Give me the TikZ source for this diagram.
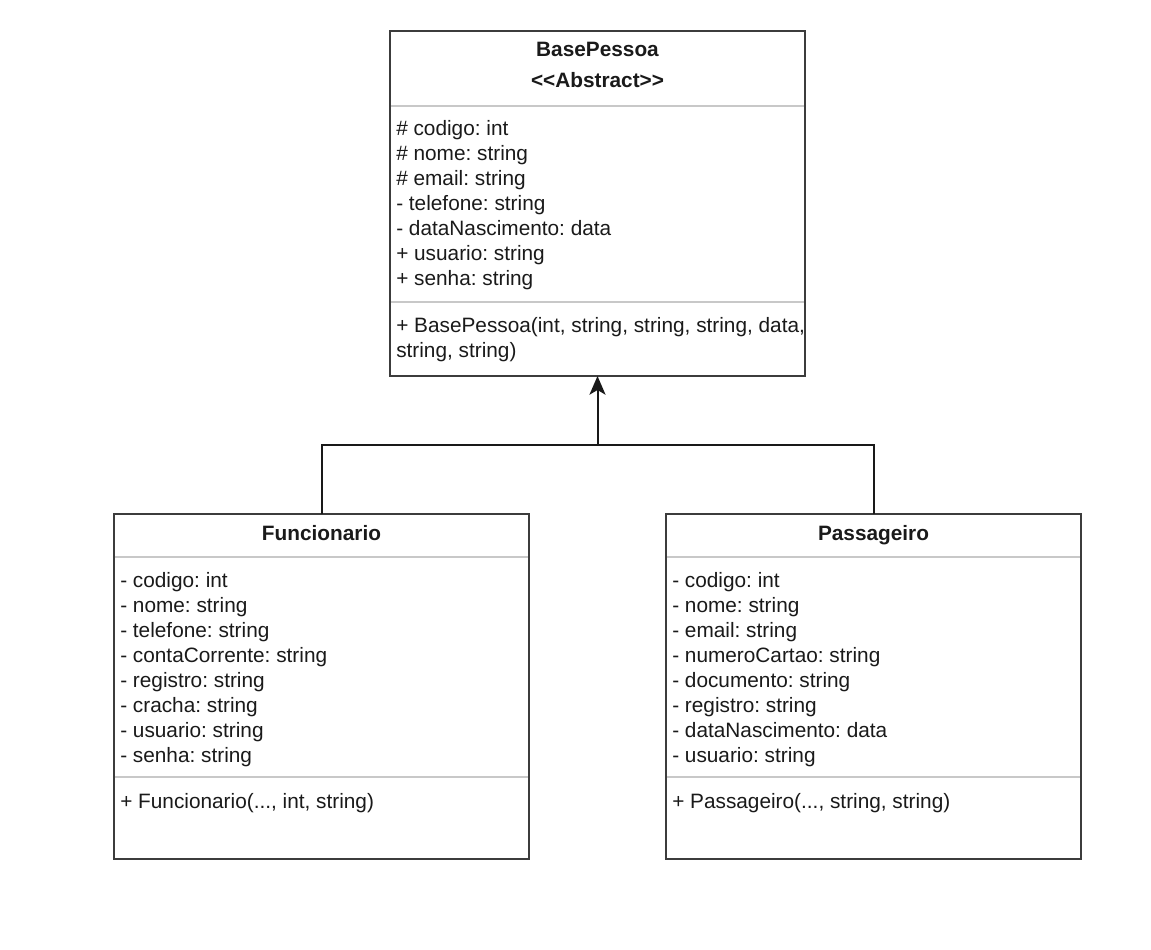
\documentclass[tikz,border=0pt]{standalone}
\usepackage{fontspec}
\setmainfont{Liberation Sans}
\usetikzlibrary{arrows.meta}
\frenchspacing
\definecolor{bordc}{HTML}{3C3C3C}
\definecolor{sepc}{HTML}{C8C8C8}
\definecolor{txtc}{HTML}{1A1A1A}
\tikzset{
  classbox/.style={draw=bordc, line width=1.5pt, fill=white, anchor=north west, inner sep=0pt, outer sep=0pt,
    minimum width=311.25pt, minimum height=258.75pt},
  sepline/.style={draw=sepc, line width=1.4pt},
  conn/.style={draw=black!90, line width=1.5pt},
  txt/.style={anchor=base west, inner sep=0pt, text=txtc, font=\fontsize{15.6}{18.75}\selectfont},
  ttl/.style={anchor=base, inner sep=0pt, text=txtc, font=\fontsize{15.6}{18.75}\selectfont\bfseries}
}
\begin{document}
\begin{tikzpicture}[x=0.75pt, y=-0.75pt]
\path[use as bounding box, fill=white] (0,0) rectangle (1151,949);

% BasePessoa
\node[classbox] (bp) at (390,31) {};
\draw[sepline] (bp.west |- 0,106) coordinate (bps1) -- (bp.east |- 0,106) coordinate (bps1e);
\draw[sepline] (bp.west |- 0,302) coordinate (bps2) -- (bp.east |- 0,302) coordinate (bps2e);
\node[ttl] (bpt) at (597.5,57) {BasePessoa};
\node[ttl] (bpst) at (597.5,88) {<\kern0pt<Abstract>\kern0pt>};
\foreach \t [count=\i] in {{\# codigo: int},{\# nome: string},{\# email: string},{- telefone: string},{- dataNascimento: data},{+ usuario: string},{+ senha: string}}
  \node[txt] (bpa\i) at (396,{135+(\i-1)*25}) {\t};
\node[txt] (bpm1) at (396,332) {+ BasePessoa(int, string, string, string, data,};
\node[txt] (bpm2) at (396,357) {string, string)};

% Funcionario
\node[classbox] (fu) at (114,514) {};
\draw[sepline] (fu.west |- 0,557) coordinate (fus1) -- (fu.east |- 0,557) coordinate (fus1e);
\draw[sepline] (fu.west |- 0,777) coordinate (fus2) -- (fu.east |- 0,777) coordinate (fus2e);
\node[ttl] (fut) at (321.5,540) {Funcionario};
\foreach \t [count=\i] in {{- codigo: int},{- nome: string},{- telefone: string},{- contaCorrente: string},{- registro: string},{- cracha: string},{- usuario: string},{- senha: string}}
  \node[txt] (fua\i) at (120,{587+(\i-1)*25}) {\t};
\node[txt] (fum1) at (120,808) {+ Funcionario(..., int, string)};

% Passageiro
\node[classbox] (pa) at (666,514) {};
\draw[sepline] (pa.west |- 0,557) coordinate (pas1) -- (pa.east |- 0,557) coordinate (pas1e);
\draw[sepline] (pa.west |- 0,777) coordinate (pas2) -- (pa.east |- 0,777) coordinate (pas2e);
\node[ttl] (pat) at (873.5,540) {Passageiro};
\foreach \t [count=\i] in {{- codigo: int},{- nome: string},{- email: string},{- numeroCartao: string},{- documento: string},{- registro: string},{- dataNascimento: data},{- usuario: string}}
  \node[txt] (paa\i) at (672,{587+(\i-1)*25}) {\t};
\node[txt] (pam1) at (672,808) {+ Passageiro(..., string, string)};

% redraw borders on top of separators
\draw[draw=bordc, line width=1.5pt] (bp.north west) rectangle (bp.south east);
\draw[draw=bordc, line width=1.5pt] (fu.north west) rectangle (fu.south east);
\draw[draw=bordc, line width=1.5pt] (pa.north west) rectangle (pa.south east);

% inheritance connectors
\coordinate (j) at (597.5,445);
\draw[conn] (fu.north) |- (j);
\draw[conn] (pa.north) |- (j);
\draw[conn, -{Stealth[length=14pt, width=12pt, inset=3.5pt]}] (j) -- (bp.south);
\end{tikzpicture}
\end{document}
